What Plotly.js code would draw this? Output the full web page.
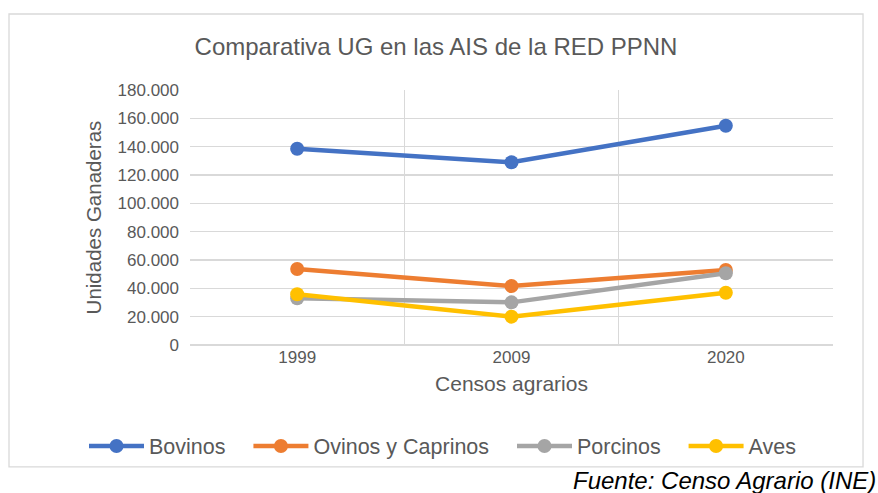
<!DOCTYPE html>
<html>
<head>
<meta charset="utf-8">
<script src="https://cdn.plot.ly/plotly-3.0.1.min.js"></script>
<style>html,body{margin:0;padding:0;background:#fff;}#chart{width:878px;height:493px;}</style>
</head>
<body>
<div id="chart"></div>
<script>
const years = ['1999', '2009', '2020'];
const bovinos = [138500, 129000, 154800];
const ovinos = [53600, 41600, 53000];
const porcinos = [33000, 30100, 50600];
const aves = [35800, 20000, 36900];
const seriesNames = ['Bovinos', 'Ovinos y Caprinos', 'Porcinos', 'Aves'];
const seriesColors = ['#4472C4', '#ED7D31', '#A5A5A5', '#FFC000'];
const yTicks = [0, 20000, 40000, 60000, 80000, 100000, 120000, 140000, 160000, 180000];

const FONT = 'Liberation Sans, Arial, sans-serif';
const PAD = '\u00A0\u00A0\u00A0';
const allSeries = [bovinos, ovinos, porcinos, aves];
const traces = allSeries.map((vals, i) => ({
  type: 'scatter',
  mode: 'lines+markers',
  x: years,
  y: vals,
  name: seriesNames[i] + (i < allSeries.length - 1 ? PAD : ''),
  line: {color: seriesColors[i], width: 4.5},
  marker: {color: seriesColors[i], size: 14}
}));

const layout = {
  width: 878,
  height: 493,
  margin: {l: 190, r: 45, t: 90, b: 148},
  paper_bgcolor: '#fff',
  plot_bgcolor: '#fff',
  separators: ',.',
  font: {family: FONT, color: '#595959'},
  title: {
    text: 'Comparativa UG en las AIS de la RED PPNN',
    font: {size: 24, color: '#595959', family: FONT},
    xref: 'container', x: 0.4966, xanchor: 'center',
    yref: 'container', y: 0.905, yanchor: 'middle'
  },
  xaxis: {
    type: 'category',
    range: [-0.5, 2.5],
    tickson: 'boundaries',
    ticks: '',
    showgrid: true,
    gridcolor: '#D9D9D9',
    gridwidth: 1.3,
    showline: false,
    zeroline: false,
    tickfont: {size: 17, color: '#595959'},
    title: {text: 'Censos agrarios', font: {size: 21, color: '#595959'}, standoff: 10}
  },
  yaxis: {
    range: [0, 180000],
    tickvals: yTicks,
    tickformat: ',',
    showgrid: true,
    gridcolor: '#D9D9D9',
    gridwidth: 1.3,
    zeroline: true,
    zerolinecolor: '#D9D9D9',
    zerolinewidth: 1.3,
    ticks: '',
    ticklabelstandoff: 10,
    tickfont: {size: 17, color: '#595959'},
    title: {text: 'Unidades Ganaderas', font: {size: 20.5, color: '#595959'}, standoff: 10}
  },
  showlegend: true,
  legend: {
    orientation: 'h',
    xref: 'paper', x: (84 - 190) / 643, xanchor: 'left',
    yref: 'paper', y: (345 - 446) / 255, yanchor: 'middle',
    font: {size: 21.5, color: '#595959'},
    itemwidth: 55,
    bgcolor: 'rgba(0,0,0,0)'
  },
  shapes: [{
    type: 'rect', xref: 'paper', yref: 'paper',
    x0: -0.2815, x1: 1.0467, y0: -0.478, y1: 1.298,
    line: {color: '#D9D9D9', width: 1.3}, fillcolor: 'rgba(0,0,0,0)', layer: 'below'
  }],
  annotations: [{
    text: 'Fuente: Censo Agrario (INE)',
    xref: 'paper', yref: 'paper',
    x: (878 - 190) / 643, xanchor: 'right',
    y: (345 - 481) / 255, yanchor: 'middle',
    showarrow: false,
    font: {size: 24, color: '#000', family: FONT, style: 'italic'}
  }]
};

Plotly.newPlot('chart', traces, layout, {displayModeBar: false, staticPlot: true});
</script>
</body>
</html>
